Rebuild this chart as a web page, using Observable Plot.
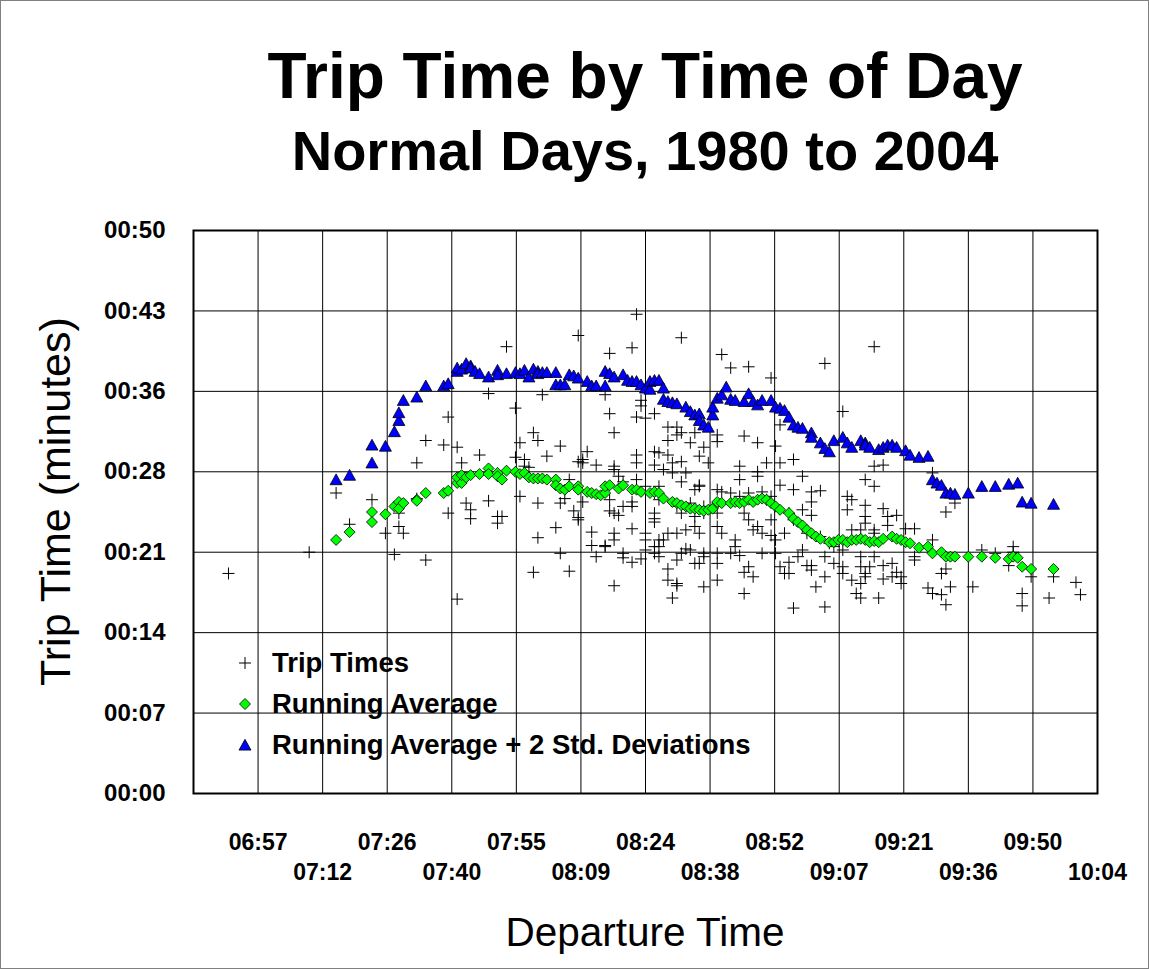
<!DOCTYPE html>
<html><head><meta charset="utf-8">
<script src="https://cdn.jsdelivr.net/npm/d3@7"></script>
<script src="https://cdn.jsdelivr.net/npm/@observablehq/plot@0.6"></script>
<style>
html,body{margin:0;padding:0;background:#fff;}
#wrap{position:relative;width:1149px;height:969px;background:#fff;font-family:"Liberation Sans",Arial,Helvetica,sans-serif;overflow:hidden;color:#000;}
#frame{position:absolute;left:0;top:0;width:1149px;height:969px;box-sizing:border-box;border:1px solid #808080;pointer-events:none;}
.ttl{position:absolute;left:193px;width:904px;text-align:center;font-weight:bold;white-space:nowrap;line-height:1;}
#title{top:44px;font-size:64px;}
#subtitle{top:123px;font-size:56px;}
#chart{position:absolute;left:0;top:200px;}
#ylab{position:absolute;left:-245px;top:480px;width:600px;text-align:center;font-size:43px;line-height:43px;transform:rotate(-90deg);white-space:nowrap;}
#xlab{position:absolute;left:193px;width:904px;top:912px;text-align:center;font-size:40.5px;line-height:40px;white-space:nowrap;}
#legend{position:absolute;left:232px;top:642px;font-weight:bold;font-size:27.5px;}
#legend .row{height:41px;display:flex;align-items:center;}
#legend svg{width:26px;height:20px;margin-right:14px;}
</style>
</head><body>
<div id="wrap">
  <div id="title" class="ttl">Trip Time by Time of Day</div>
  <div id="subtitle" class="ttl">Normal Days, 1980 to 2004</div>
  <div id="chart"></div>
  <div id="ylab">Trip Time (minutes)</div>
  <div id="xlab">Departure Time</div>
  <div id="legend"></div>
  <div id="frame"></div>
</div>
<script>
// ---- axis settings (Excel: min 0.28 day, max 0.42 day, unit 0.01 day; y 0..0.035 day, unit 0.005) ----
const xAxisMinDay = 0.28, xAxisMaxDay = 0.42, xMajorUnitDay = 0.01;
const yAxisMinDay = 0, yAxisMaxDay = 0.035, yMajorUnitDay = 0.005;
const xTickLabels = ["06:43","06:57","07:12","07:26","07:40","07:55","08:09","08:24","08:38","08:52","09:07","09:21","09:36","09:50","10:04"];
const yTickLabels = ["00:00","00:07","00:14","00:21","00:28","00:36","00:43","00:50"];
const seriesNames = ["Trip Times","Running Average","Running Average + 2 Std. Deviations"];

// ---- data: [departure time, trip time in minutes] ----
const tripTimes = [
["06:51",19.7],["07:09",21.6],["07:15",26.9],["07:18",24.1],["07:23",26.3],["07:26",23.3],["07:28",21.4],["07:29",25.1],["07:29",23.9],["07:30",23.3],
["07:33",29.6],["07:33",26.4],["07:35",31.6],["07:35",20.9],["07:39",31.2],["07:40",33.7],["07:40",25.1],["07:42",17.4],["07:42",31.0],["07:43",29.6],
["07:44",26.0],["07:45",25.4],["07:45",24.6],["07:47",30.3],["07:49",26.2],["07:49",35.8],["07:51",24.8],["07:51",24.2],["07:52",24.8],["07:53",40.0],
["07:55",34.5],["07:55",30.1],["07:56",31.4],["07:56",26.6],["07:57",29.3],["07:57",29.9],["07:58",29.2],["07:59",19.8],["07:59",32.3],["08:00",31.6],
["08:00",26.0],["08:00",22.9],["08:01",35.7],["08:02",30.2],["08:04",23.8],["08:05",21.5],["08:05",31.1],["08:05",26.0],["08:06",26.4],["08:07",19.9],
["08:07",28.1],["08:08",25.3],["08:09",24.7],["08:09",41.0],["08:09",29.7],["08:09",24.5],["08:10",29.9],["08:10",29.6],["08:10",26.1],["08:11",30.6],
["08:12",23.4],["08:12",22.2],["08:13",29.4],["08:13",21.2],["08:15",35.7],["08:15",22.1],["08:15",22.2],["08:16",39.4],["08:16",34.0],["08:16",26.3],
["08:16",25.3],["08:17",32.3],["08:17",29.3],["08:17",29.0],["08:17",23.3],["08:17",22.7],["08:17",18.6],["08:17",25.1],["08:18",28.4],["08:18",24.9],
["08:19",27.9],["08:19",25.7],["08:19",21.1],["08:19",21.5],["08:21",39.9],["08:21",20.7],["08:21",23.7],["08:21",25.7],["08:21",26.1],["08:22",42.9],
["08:22",33.7],["08:22",30.3],["08:22",29.6],["08:22",28.1],["08:23",35.2],["08:23",34.7],["08:23",21.0],["08:24",33.6],["08:24",21.8],["08:24",27.5],
["08:24",22.7],["08:24",23.3],["08:26",29.4],["08:26",30.6],["08:26",34.0],["08:26",25.1],["08:26",24.6],["08:26",24.3],["08:26",22.1],["08:26",21.5],
["08:26",26.9],["08:27",22.1],["08:27",22.7],["08:27",30.5],["08:27",21.2],["08:27",27.5],["08:27",26.3],["08:28",29.0],["08:28",22.7],["08:29",32.8],
["08:29",31.6],["08:29",30.3],["08:29",19.1],["08:29",20.1],["08:29",23.3],["08:30",29.6],["08:30",28.7],["08:30",17.5],["08:31",32.8],["08:31",32.1],
["08:31",18.8],["08:31",18.6],["08:31",23.3],["08:31",25.7],["08:31",20.9],["08:32",40.8],["08:32",32.3],["08:32",29.7],["08:32",27.9],["08:32",21.5],
["08:32",25.1],["08:33",28.7],["08:33",21.9],["08:33",23.6],["08:34",31.4],["08:34",21.8],["08:34",26.0],["08:35",32.3],["08:35",24.8],["08:35",27.2],
["08:35",23.9],["08:35",20.6],["08:36",30.2],["08:36",27.6],["08:36",27.5],["08:36",20.6],["08:36",23.3],["08:37",31.0],["08:37",25.7],["08:37",21.5],
["08:37",21.2],["08:37",18.5],["08:37",25.1],["08:38",29.6],["08:40",32.1],["08:40",31.5],["08:40",27.2],["08:40",23.9],["08:40",21.5],["08:40",20.6],
["08:40",25.1],["08:40",19.1],["08:41",39.3],["08:41",27.0],["08:41",23.3],["08:43",38.1],["08:43",26.9],["08:43",21.5],["08:44",22.7],["08:44",22.1],
["08:45",29.3],["08:45",28.1],["08:45",26.6],["08:45",21.3],["08:46",32.0],["08:46",25.1],["08:46",19.8],["08:46",17.9],["08:47",38.2],["08:47",26.9],
["08:47",24.5],["08:47",20.3],["08:48",23.6],["08:48",19.4],["08:49",31.4],["08:49",28.8],["08:49",28.4],["08:49",23.9],["08:50",27.0],["08:50",21.5],
["08:50",23.3],["08:51",29.6],["08:51",26.3],["08:52",37.2],["08:52",26.6],["08:52",24.5],["08:52",23.1],["08:53",31.1],["08:53",21.5],["08:53",22.7],
["08:54",33.0],["08:54",29.6],["08:54",27.6],["08:54",20.3],["08:55",19.7],["08:55",23.3],["08:56",25.1],["08:56",20.7],["08:56",19.7],["08:57",29.9],
["08:57",27.2],["08:57",24.5],["08:57",16.6],["08:58",21.2],["08:59",28.4],["08:59",25.4],["08:59",23.9],["08:59",21.8],["09:00",23.3],["09:00",20.4],
["09:01",27.0],["09:01",26.1],["09:01",24.9],["09:01",20.4],["09:01",20.0],["09:02",18.5],["09:03",27.1],["09:03",23.0],["09:04",38.5],["09:04",21.2],
["09:04",19.4],["09:04",16.7],["09:05",22.4],["09:06",20.6],["09:06",22.1],["09:08",34.2],["09:08",20.3],["09:08",19.7],["09:08",21.8],["09:09",26.6],
["09:09",25.4],["09:10",26.3],["09:10",23.6],["09:10",19.1],["09:11",17.9],["09:12",23.6],["09:12",18.8],["09:12",17.5],["09:12",20.3],["09:12",21.2],
["09:13",24.2],["09:13",28.1],["09:13",19.7],["09:13",25.8],["09:13",24.8],["09:13",19.4],["09:14",20.3],["09:15",40.0],["09:15",29.3],["09:15",27.5],
["09:15",23.6],["09:15",23.3],["09:15",21.2],["09:16",17.5],["09:17",29.4],["09:17",25.5],["09:17",20.4],["09:17",19.2],["09:18",24.8],["09:18",24.0],
["09:19",20.6],["09:19",19.4],["09:20",24.9],["09:20",19.8],["09:21",19.4],["09:21",18.8],["09:22",23.7],["09:24",23.7],["09:24",20.9],["09:24",21.2],
["09:27",18.4],["09:28",28.7],["09:28",22.7],["09:28",17.9],["09:30",17.8],["09:30",19.7],["09:31",25.2],["09:31",16.9],["09:31",20.1],["09:32",18.5],
["09:33",26.0],["09:37",18.5],["09:39",21.8],["09:42",21.5],["09:45",20.4],["09:46",22.1],["09:46",21.6],["09:48",17.9],["09:48",16.8],["09:50",19.4],
["09:54",17.5],["09:55",19.4],["10:00",18.9],["10:01",17.8]
];

const runningAverage = [
["07:15",22.7],["07:18",23.4],["07:23",25.2],["07:23",24.3],["07:26",25.0],["07:28",25.7],["07:29",26.1],["07:29",25.5],["07:30",26.0],["07:33",26.3],
["07:33",26.2],["07:35",26.9],["07:39",26.9],["07:40",27.1],["07:42",27.8],["07:42",28.3],["07:43",27.8],["07:43",28.5],["07:44",28.3],["07:45",28.5],
["07:47",28.6],["07:49",29.1],["07:49",28.6],["07:51",28.7],["07:51",28.4],["07:52",28.1],["07:53",28.9],["07:55",28.8],["07:56",28.6],["07:57",28.7],
["07:58",28.3],["07:59",28.2],["08:00",28.2],["08:01",28.2],["08:02",28.1],["08:04",28.1],["08:04",27.6],["08:05",27.3],["08:06",27.2],["08:07",27.5],
["08:09",27.5],["08:09",27.2],["08:11",27.0],["08:12",26.9],["08:13",26.8],["08:14",26.7],["08:15",26.9],["08:15",27.5],["08:16",27.6],["08:18",27.3],
["08:19",27.6],["08:21",27.2],["08:22",27.2],["08:23",27.0],["08:25",26.9],["08:26",27.0],["08:27",26.9],["08:28",26.4],["08:30",26.1],["08:31",26.0],
["08:32",25.8],["08:33",25.7],["08:34",25.5],["08:35",25.5],["08:36",25.4],["08:37",25.3],["08:38",25.4],["08:39",25.5],["08:40",26.0],["08:40",26.1],
["08:41",26.0],["08:43",26.0],["08:44",26.1],["08:45",26.0],["08:46",26.1],["08:47",26.3],["08:48",26.1],["08:49",26.3],["08:50",26.4],["08:51",26.3],
["08:52",26.0],["08:53",25.7],["08:54",25.4],["08:56",25.1],["08:57",24.6],["08:58",24.3],["08:59",24.0],["09:00",23.6],["09:01",23.3],["09:02",23.0],
["09:03",22.8],["09:05",22.5],["09:06",22.5],["09:07",22.7],["09:08",22.7],["09:09",22.5],["09:10",22.7],["09:11",22.7],["09:12",22.8],["09:13",22.7],
["09:14",22.5],["09:15",22.6],["09:16",22.5],["09:17",22.8],["09:19",23.0],["09:20",22.8],["09:21",22.7],["09:22",22.5],["09:23",22.4],["09:25",22.0],
["09:27",22.1],["09:28",21.5],["09:30",21.6],["09:31",21.2],["09:32",21.2],["09:33",21.2],["09:36",21.2],["09:39",21.2],["09:42",21.1],["09:45",21.0],
["09:46",21.2],["09:47",21.1],["09:48",20.3],["09:50",20.1],["09:55",20.1]
];

const runningAvgPlus2SD = [
["07:15",28.1],["07:18",28.5],["07:23",31.2],["07:23",29.6],["07:26",31.1],["07:28",32.4],["07:29",33.4],["07:29",34.1],["07:30",35.2],["07:33",35.5],
["07:35",36.5],["07:39",36.5],["07:40",36.7],["07:42",37.8],["07:42",38.1],["07:43",38.0],["07:44",38.5],["07:45",38.3],["07:45",38.1],["07:46",37.8],
["07:47",37.6],["07:49",37.3],["07:51",37.9],["07:51",37.5],["07:53",37.6],["07:55",37.7],["07:56",37.6],["07:57",37.9],["07:58",37.3],["07:59",38.0],
["08:00",37.8],["08:00",37.6],["08:01",37.7],["08:02",37.7],["08:04",37.7],["08:04",36.6],["08:05",36.6],["08:06",36.6],["08:07",37.5],["08:08",37.4],
["08:09",37.2],["08:11",36.9],["08:12",36.5],["08:13",36.5],["08:15",36.5],["08:15",37.8],["08:16",37.6],["08:17",37.3],["08:19",37.5],["08:20",37.0],
["08:21",36.9],["08:22",36.9],["08:23",36.6],["08:24",36.3],["08:25",36.2],["08:25",36.9],["08:26",37.0],["08:27",37.0],["08:28",36.3],["08:28",35.3],
["08:29",35.1],["08:30",35.0],["08:31",34.9],["08:33",34.6],["08:34",34.2],["08:35",33.9],["08:36",34.0],["08:36",33.4],["08:37",33.0],["08:38",32.8],
["08:39",33.9],["08:39",34.6],["08:40",35.4],["08:41",35.7],["08:42",36.4],["08:43",35.3],["08:44",35.2],["08:46",35.1],["08:47",35.8],["08:48",35.1],
["08:49",34.8],["08:50",35.2],["08:52",35.2],["08:53",34.6],["08:54",34.5],["08:55",34.3],["08:56",33.7],["08:57",33.0],["08:58",32.8],["08:59",32.7],
["09:01",32.3],["09:01",31.9],["09:03",31.4],["09:04",30.9],["09:05",30.6],["09:06",31.6],["09:08",31.9],["09:09",31.4],["09:10",31.0],["09:12",31.6],
["09:13",31.4],["09:13",31.2],["09:14",31.0],["09:16",30.8],["09:17",31.0],["09:18",31.2],["09:19",31.2],["09:20",31.0],["09:22",30.7],["09:23",30.3],
["09:25",30.1],["09:27",30.2],["09:28",28.1],["09:29",27.8],["09:30",27.6],["09:31",26.9],["09:32",26.9],["09:33",26.8],["09:36",26.9],["09:39",27.5],
["09:42",27.5],["09:45",27.7],["09:47",27.8],["09:48",26.1],["09:50",26.0],["09:55",25.9]
];

// ---- helpers ----
const toMin = s => { const [h, m] = s.split(":").map(Number); return h * 60 + m; };
const rows = arr => arr.map(([t, v]) => ({x: toMin(t), y: v}));
const DAY = 1440;
const xMin = xAxisMinDay * DAY, xMax = xAxisMaxDay * DAY;
const yMin = yAxisMinDay * DAY, yMax = yAxisMaxDay * DAY;
const xTicks = d3.range(xTickLabels.length).map(i => xMin + i * xMajorUnitDay * DAY);
const yTicks = d3.range(yTickLabels.length).map(i => yMin + i * yMajorUnitDay * DAY);
const xLabelOf = new Map(xTicks.map((v, i) => [v, xTickLabels[i]]));
const yLabelOf = new Map(yTicks.map((v, i) => [v, yTickLabels[i]]));
const xRow1 = xTicks.filter((d, i) => i % 2 === 1);
const xRow2 = xTicks.filter((d, i) => i % 2 === 0 && i > 0);

// custom marker shapes
const crossSym = {draw(c, size) { const r = Math.sqrt(size / Math.PI); c.moveTo(-r, 0); c.lineTo(r, 0); c.moveTo(0, -r); c.lineTo(0, r); }};
const diamondSym = {draw(c, size) { const r = Math.sqrt(size / Math.PI); c.moveTo(0, -r); c.lineTo(r, 0); c.lineTo(0, r); c.lineTo(-r, 0); c.closePath(); }};
const triSym = {draw(c, size) { const r = Math.sqrt(size / Math.PI); c.moveTo(0, -0.95 * r); c.lineTo(r, 0.85 * r); c.lineTo(-r, 0.85 * r); c.closePath(); }};

const FONT = "Liberation Sans, Arial, Helvetica, sans-serif";
const chart = Plot.plot({
  width: 1149, height: 769,
  marginLeft: 193, marginRight: 52, marginTop: 30, marginBottom: 176,
  style: {fontFamily: FONT, background: "transparent", color: "#000", overflow: "visible"},
  x: {domain: [xMin, xMax], axis: null},
  y: {domain: [yMin, yMax], axis: null},
  marks: [
    Plot.ruleX(xTicks.slice(1), {stroke: "#000", strokeWidth: 1}),
    Plot.ruleY(yTicks.slice(1), {stroke: "#000", strokeWidth: 1}),
    Plot.dot(rows(tripTimes), {x: "x", y: "y", symbol: crossSym, r: 6, fill: "none", stroke: "#000", strokeWidth: 1}),
    Plot.dot(rows(runningAverage), {x: "x", y: "y", symbol: diamondSym, r: 5.5, fill: "#00ff00", stroke: "#000", strokeWidth: 0.8}),
    Plot.dot(rows(runningAvgPlus2SD), {x: "x", y: "y", symbol: triSym, r: 6, fill: "#0000ff", stroke: "#000", strokeWidth: 0.8}),
    Plot.frame({stroke: "#000", strokeWidth: 2}),
    Plot.axisY(yTicks, {anchor: "left", tickSize: 0, tickPadding: 28, tickFormat: d => yLabelOf.get(d), fontSize: 24, fontWeight: "bold", label: null}),
    Plot.axisX(xRow1, {anchor: "bottom", tickSize: 0, tickPadding: 40, tickFormat: d => xLabelOf.get(d), fontSize: 23, fontWeight: "bold", label: null}),
    Plot.axisX(xRow2, {anchor: "bottom", tickSize: 0, tickPadding: 70, tickFormat: d => xLabelOf.get(d), fontSize: 23, fontWeight: "bold", label: null})
  ]
});
document.getElementById("chart").appendChild(chart);

// legend
const legendSyms = [
  `<svg viewBox="-13 -10 26 20"><path d="M-6,0H6M0,-6V6" stroke="#000" stroke-width="1" fill="none"/></svg>`,
  `<svg viewBox="-13 -10 26 20"><path d="M0,-5.5L5.5,0L0,5.5L-5.5,0Z" fill="#00ff00" stroke="#000" stroke-width="0.8"/></svg>`,
  `<svg viewBox="-13 -10 26 20"><path d="M0,-5.7L6,5.1L-6,5.1Z" fill="#0000ff" stroke="#000" stroke-width="0.8"/></svg>`
];
document.getElementById("legend").innerHTML = seriesNames.map((n, i) =>
  `<div class="row">${legendSyms[i]}<span>${n}</span></div>`).join("");
</script>
</body></html>
